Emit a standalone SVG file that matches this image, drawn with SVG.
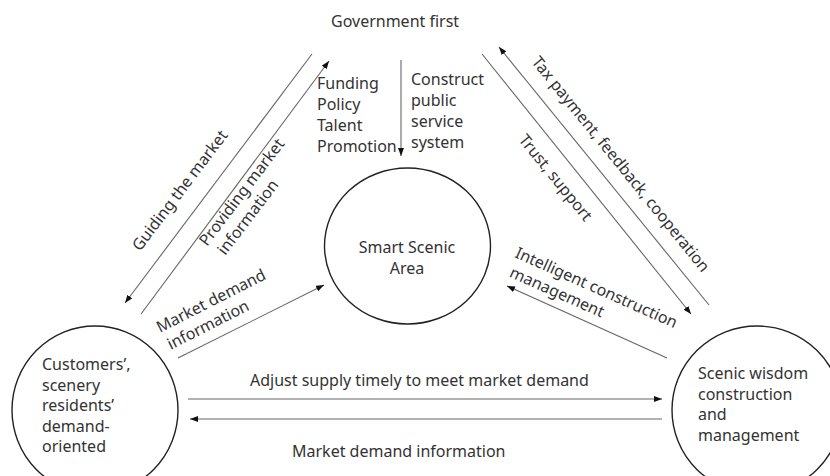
<svg xmlns="http://www.w3.org/2000/svg" width="830" height="476" viewBox="0 0 830 476">
<defs>
<marker id="ah" markerUnits="userSpaceOnUse" markerWidth="9" markerHeight="7" refX="8" refY="3" orient="auto">
<path d="M0,0 L8,3 L0,6 z" fill="#111"/>
</marker>
<style>
text{font-family:"Noto Sans","Liberation Sans",sans-serif;font-size:16px;fill:#333}
.node{fill:none;stroke:#222;stroke-width:1.4}
.con line{stroke:#666;stroke-width:1.1;marker-end:url(#ah)}
.mid{text-anchor:middle}
</style>
</defs>
<rect width="830" height="476" fill="#fff"/>
<g id="gov"><text x="331" y="27">Government first</text></g>
<g id="smart">
<ellipse class="node" cx="407.5" cy="246" rx="83" ry="78"/>
<text class="mid" x="407" y="253">Smart Scenic</text>
<text class="mid" x="407" y="274">Area</text>
</g>
<g id="customers">
<ellipse class="node" cx="95" cy="410" rx="83" ry="84"/>
<text x="42" y="370">Customers’,</text>
<text x="42" y="390.5">scenery</text>
<text x="42" y="411">residents’</text>
<text x="42" y="431.5">demand-</text>
<text x="42" y="452">oriented</text>
</g>
<g id="scenic">
<ellipse class="node" cx="757" cy="410" rx="85" ry="84"/>
<text x="698" y="379">Scenic wisdom</text>
<text x="698" y="400">construction</text>
<text x="698" y="420">and</text>
<text x="698" y="441">management</text>
</g>
<g id="connectors" class="con">
<line x1="312" y1="54" x2="125" y2="303"/>
<line x1="141" y1="314" x2="329" y2="61"/>
<line x1="401" y1="60" x2="401" y2="156"/>
<line x1="709" y1="305" x2="499" y2="47"/>
<line x1="482" y1="54" x2="691" y2="314"/>
<line x1="178" y1="358" x2="324" y2="285"/>
<line x1="667" y1="358" x2="507" y2="286"/>
<line x1="188" y1="399" x2="662" y2="399"/>
<line x1="662" y1="419" x2="190" y2="419"/>
</g>
<g id="labels">
<text x="317" y="89">Funding</text>
<text x="317" y="110">Policy</text>
<text x="317" y="131">Talent</text>
<text x="317" y="152">Promotion</text>
<text x="411" y="85">Construct</text>
<text x="411" y="106">public</text>
<text x="411" y="127">service</text>
<text x="411" y="148">system</text>
<text transform="translate(140,252) rotate(-52.8)">Guiding the market</text>
<g transform="translate(207,247) rotate(-52.8)">
<text x="0" y="0">Providing market</text>
<text x="4" y="20">information</text>
</g>
<text transform="translate(531,62) rotate(51)">Tax payment, feedback, cooperation</text>
<text transform="translate(518,140) rotate(51)">Trust, support</text>
<g transform="translate(514,257) rotate(24)">
<text x="0" y="0">Intelligent construction</text>
<text x="3" y="20">management</text>
</g>
<g transform="translate(160,333) rotate(-27)">
<text x="0" y="0">Market demand</text>
<text x="2" y="20">information</text>
</g>
<text x="250" y="386">Adjust supply timely to meet market demand</text>
<text x="292" y="457">Market demand information</text>
</g>
</svg>
